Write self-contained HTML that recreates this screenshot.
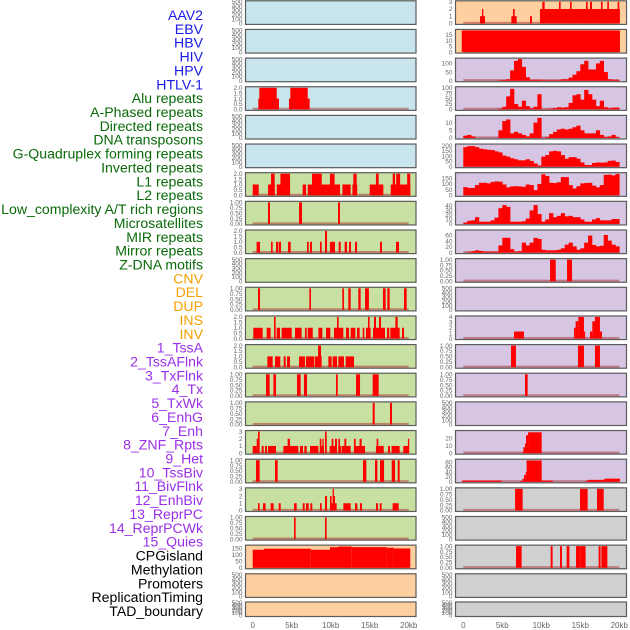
<!DOCTYPE html>
<html><head><meta charset="utf-8">
<style>
html,body{margin:0;padding:0;background:#fff;}
svg{display:block;font-family:"Liberation Sans",sans-serif;}
</style></head>
<body>
<svg id="chart" width="630" height="630" viewBox="0 0 630 630" xmlns="http://www.w3.org/2000/svg">
<g id="labels" font-size="14.1" text-anchor="end"></g>
<g id="panels"></g>
<g id="xaxis" font-size="8" fill="#666" text-anchor="middle"></g>
</svg>
<script>
// ---- data ----
const trackLabels = ["AAV2","EBV","HBV","HIV","HPV","HTLV-1","Alu repeats","A-Phased repeats","Directed repeats","DNA transposons","G-Quadruplex forming repeats","Inverted repeats","L1 repeats","L2 repeats","Low_complexity A/T rich regions","Microsatellites","MIR repeats","Mirror repeats","Z-DNA motifs","CNV","DEL","DUP","INS","INV","1_TssA","2_TssAFlnk","3_TxFlnk","4_Tx","5_TxWk","6_EnhG","7_Enh","8_ZNF_Rpts","9_Het","10_TssBiv","11_BivFlnk","12_EnhBiv","13_ReprPC","14_ReprPCWk","15_Quies","CPGisland","Methylation","Promoters","ReplicationTiming","TAD_boundary"];
const labelColors = ["#1a1ae6","#1a1ae6","#1a1ae6","#1a1ae6","#1a1ae6","#1a1ae6","#0a6a0a","#0a6a0a","#0a6a0a","#0a6a0a","#0a6a0a","#0a6a0a","#0a6a0a","#0a6a0a","#0a6a0a","#0a6a0a","#0a6a0a","#0a6a0a","#0a6a0a","#f5a000","#f5a000","#f5a000","#f5a000","#f5a000","#9a30e8","#9a30e8","#9a30e8","#9a30e8","#9a30e8","#9a30e8","#9a30e8","#9a30e8","#9a30e8","#9a30e8","#9a30e8","#9a30e8","#9a30e8","#9a30e8","#9a30e8","#000","#000","#000","#000","#000"];
const xTickValues = [0,5,10,15,20];
const xTickLabels = ["0","5kb","10kb","15kb","20kb"];

// segment tracks: [startKb, endKb, value]
const segHIV = [[0.72,3.37,1],[0.85,3.08,2],[4.65,7.3,1],[4.82,7.05,2]];
const segAlu = [[0,0.77,1],[1.97,2.82,1],[2.35,2.82,2],[3.08,4.79,1],[3.55,4.79,2],[6.41,6.84,1],[7.05,11.2,1],[7.6,8.85,2],[9.9,10.5,2],[11.5,12.56,1],[12.78,13.4,1],[12.9,13.33,2],[15.0,16.75,1],[15.8,16.15,2],[17.7,20.2,1],[17.95,18.25,2],[18.4,18.9,2],[19.8,20.2,2]];
const segAPhased = [[1.96,2.22,1],[5.94,6.32,1],[10.94,11.19,1]];
const segDirected = [[0.5,0.94,1],[2.35,2.56,1],[2.99,3.3,1],[3.37,3.63,1],[4.53,4.87,1],[6.96,7.18,1],[7.35,7.6,1],[8.63,8.84,1],[9.9,10.55,1],[11.02,11.28,1],[11.79,12.09,1],[12.35,12.6,1],[13.12,13.38,1],[16.32,16.57,1],[18.37,18.76,1],[9.27,9.53,2]];
const segGQuad = [[0.68,0.94,1],[7.26,7.47,1],[11.49,11.7,1],[12.26,12.56,1],[13.54,13.84,1],[14.4,14.9,1],[16.7,17.05,1],[17.26,17.56,1],[19.4,19.74,1]];
const segInverted = [[0.08,1.28,1],[1.79,2.3,1],[3.07,3.5,1],[3.71,5,1],[5.42,6.27,1],[6.7,6.92,1],[7.05,7.7,1],[8.42,8.93,1],[9.4,9.95,1],[10.42,11.62,1],[11.96,12.35,1],[12.56,13.16,1],[13.37,13.71,1],[14.1,14.31,1],[14.52,15.12,1],[15.42,16.96,1],[17.22,17.51,1],[17.64,18.84,1],[19.14,19.4,1],[2.73,2.94,2],[10.81,11.02,2],[14.78,14.99,2],[15.55,15.81,2],[16.19,16.45,2],[18.29,18.59,2]];
const segL1 = [[1.88,2.56,1],[2.86,3.54,1],[3.97,4.23,1],[4.4,4.78,1],[5.94,6.7,1],[6.83,7.9,1],[7.99,8.84,1],[9.7,10.12,1],[10.25,10.81,1],[10.98,11.7,1],[11.92,12.99,1],[8.38,8.76,2]];
const segL2 = [[1.71,2.17,1],[2.65,2.99,1],[5.68,6.15,1],[6.57,6.96,1],[10.68,10.9,1],[13.25,13.76,1],[15.38,16.15,1]];
const segLowC = [[15.38,15.64,1],[17.6,17.86,1]];
const segMicro = [[0,0.51,1],[1.15,1.41,1],[1.58,1.83,1],[1.96,2.99,1],[3.93,4.57,1],[4.7,5.85,1],[6.06,6.45,1],[6.62,6.92,1],[7.35,8.42,1],[8.67,9.14,1],[9.87,10.72,1],[10.98,11.32,1],[11.4,12.56,1],[12.98,14.4,1],[15.8,16.8,1],[17.35,17.6,1],[17.8,18.84,1],[19.3,20.04,1],[0.51,0.81,2],[4.48,4.78,2],[8.6,8.8,2],[8.93,9.1,2],[9.27,9.48,2],[10.12,10.34,2],[10.55,10.81,2],[10.98,11.19,2],[11.75,12,2],[12.98,13.2,2],[13.7,13.97,2],[15.89,16.1,2],[19.9,20.07,2],[0.68,0.89,3],[9.27,9.48,3]];
const segMIR = [[0.42,0.89,1],[2.86,3.2,1],[14.14,14.57,1],[15.68,15.98,1],[16.32,16.84,1],[17.82,18.25,1],[18.59,18.84,1]];
const segMirror = [[0.68,0.89,1],[1.32,1.66,1],[2.3,2.69,1],[3.33,3.59,1],[5.3,5.64,1],[6.41,6.66,1],[6.83,7.18,1],[7.39,7.64,1],[8.63,8.84,1],[9.91,10.76,1],[11.62,12.56,1],[13.12,13.42,1],[13.76,14.01,1],[15.81,16.06,1],[16.28,16.53,1],[17.94,18.71,1],[9.27,9.53,2],[9.91,10.12,2],[10.34,10.55,2],[10.25,10.42,3]];
const segZDNA = [[5.3,5.51,1],[9.27,9.48,1]];
const segCNV = [[0,1.45,140],[1.45,7.44,148],[7.44,9.91,140],[9.91,11,160],[11,12.7,165],[12.7,17.2,160],[17.2,18.1,155],[18.1,20.2,150]];
const segINS = [[2.14,2.78,1],[2.4,2.57,2],[6.16,6.84,1],[6.37,6.59,2],[8.55,8.8,1],[9.83,20.08,2],[10.13,10.43,3],[12.27,12.48,3],[13.68,13.89,3],[15.73,15.94,3],[16.24,16.5,3],[17.65,17.86,3],[18.46,18.67,3],[19.79,20.0,3]];
const segINV = [[-0.2,20.08,19]];
const segZNF = [[11.12,11.85,1],[13.3,13.94,1]];
const segTssBiv = [[6.5,7.78,1.3],[14.19,14.4,2],[14.4,14.74,3.2],[14.74,15.47,4],[15.47,15.6,1.3],[16.24,16.54,1.3],[16.54,16.88,3.2],[16.88,17.52,4],[17.52,17.78,1.3]];
const segBivFlnk = [[6.12,6.75,1],[14.7,15.47,1],[16.88,17.52,1]];
const segEnhBiv = [[7.91,8.25,1]];
const segReprPCWk = [[7.5,7.7,1],[7.7,7.91,8],[7.91,8.04,13],[8.04,8.3,24],[8.3,10.05,28]];
const segQuies = [[-0.2,4.92,5],[7.27,7.57,3],[7.57,7.78,12],[7.78,8,28],[8,8.12,40],[8.12,10.05,88],[10.05,11.46,5],[15.73,16.03,5],[16.03,17.95,8],[17.95,18.16,10],[18.16,20.08,13]];
const segCPG = [[6.64,7.61,1],[14.96,15.94,1],[17.14,18.0,1]];
const segMeth = [[6.76,7.48,1],[11.2,11.45,1],[12.4,12.65,1],[13.25,13.6,1],[14.45,15.05,1],[15.05,15.68,1],[17.35,17.6,1],[17.7,18.47,1]];

// binned profile tracks (0.5 kb bins starting at 0)
const binTssA = [0,0,0,0,0,0,0,0,0,3,4,8,60,115,125,80,20,5,5,5,3,3,3,3,3,8,8,18,35,55,95,115,65,65,100,115,50,8,5,5];
const binTssAFlnk = [0,0,0,0,0,0,0,0,0,3,12,60,95,25,12,40,15,5,12,70,1,2,3,6,10,8,10,30,65,70,45,90,70,45,15,40,10,5,8,8];
const binTxFlnk = [1.5,2,1,0,0,0,0,0,0,5,11,12,3,4,3,2,1,3,10,13,0,0.5,2.5,4,5.5,6,5.5,6,7,8,5,3,3,3,5,2,0.5,1,2,0.5];
const binTx = [185,195,195,185,170,165,160,158,145,135,105,95,80,70,60,60,70,55,30,8,95,110,145,150,145,110,75,90,90,75,40,15,15,35,40,38,40,55,58,45];
const binTxWk = [72,65,65,90,110,110,105,118,122,120,95,70,78,80,78,75,95,90,45,100,185,170,110,108,115,160,160,90,60,80,105,108,110,85,70,90,180,182,175,188];
const binEnhG = [3,7,8,15,5,5,5,8,14,35,42,38,5,5,5,6,12,30,42,22,5,10,24,15,18,24,17,18,15,15,10,5,5,10,13,8,8,8,11,11];
const binEnh = [0,2,5,8,6,3,3,3,3,25,52,52,12,3,5,35,25,35,52,48,10,8,8,8,10,15,28,35,22,10,15,35,60,27,22,24,62,42,28,22];

// y tick labels per panel
const ticksEmpty = ["0","100","200","300","400","500"];
const ticks01 = ["0.00","0.25","0.50","0.75","1.00"];
const ticks02 = ["0.0","0.5","1.0","1.5","2.0"];
const ticks03 = ["0","1","2","3"];

// ---- layout ----
const BG = {blue:"#c8e4ec", green:"#c8e1a2", peach:"#ffd09f", lav:"#d6c6e3", gray:"#d0d0d0"};
const panelX = [[245,416.5],[455,627]];
const zeroX = [252.7,463.3];
const PXKB = 7.8;
function rowTop(r){ return r===21 ? 601.5 : 28.65*r + 0.3; }
function rowH(r){ return r===21 ? 15.5 : 24.6; }

const panelDefs = [
 {c:0,r:0,bg:"blue",name:"aav2"},{c:0,r:1,bg:"blue",name:"ebv"},{c:0,r:2,bg:"blue",name:"hbv"},
 {c:0,r:3,bg:"blue",name:"hiv",seg:segHIV,max:2,tk:ticks02},
 {c:0,r:4,bg:"blue",name:"hpv"},{c:0,r:5,bg:"blue",name:"htlv-1"},
 {c:0,r:6,bg:"green",name:"alu",seg:segAlu,max:2,tk:ticks02},
 {c:0,r:7,bg:"green",name:"a-phased",seg:segAPhased,max:1,tk:ticks01},
 {c:0,r:8,bg:"green",name:"directed",seg:segDirected,max:2,tk:ticks02},
 {c:0,r:9,bg:"green",name:"dna-transposons"},
 {c:0,r:10,bg:"green",name:"g-quadruplex",seg:segGQuad,max:1,tk:ticks01},
 {c:0,r:11,bg:"green",name:"inverted",seg:segInverted,max:2,tk:ticks02},
 {c:0,r:12,bg:"green",name:"l1",seg:segL1,max:2,tk:ticks02},
 {c:0,r:13,bg:"green",name:"l2",seg:segL2,max:1,tk:ticks01},
 {c:0,r:14,bg:"green",name:"low-complexity",seg:segLowC,max:1,tk:ticks01},
 {c:0,r:15,bg:"green",name:"microsatellites",seg:segMicro,max:3,tk:ticks03},
 {c:0,r:16,bg:"green",name:"mir",seg:segMIR,max:1,tk:ticks01},
 {c:0,r:17,bg:"green",name:"mirror",seg:segMirror,max:3,tk:ticks03},
 {c:0,r:18,bg:"green",name:"z-dna",seg:segZDNA,max:1,tk:ticks01},
 {c:0,r:19,bg:"peach",name:"cnv",seg:segCNV,max:168,tk:["0","50","100","150"]},
 {c:0,r:20,bg:"peach",name:"del"},{c:0,r:21,bg:"peach",name:"dup"},
 {c:1,r:0,bg:"peach",name:"ins",seg:segINS,max:3,tk:ticks03},
 {c:1,r:1,bg:"peach",name:"inv",seg:segINV,max:19,tk:["0","5","10","15"]},
 {c:1,r:2,bg:"lav",name:"tssa",bins:binTssA,max:125,tk:["0","50","100"]},
 {c:1,r:3,bg:"lav",name:"tssaflnk",bins:binTssAFlnk,max:100,tk:["0","25","50","75","100"]},
 {c:1,r:4,bg:"lav",name:"txflnk",bins:binTxFlnk,max:14,tk:["0","5","10"]},
 {c:1,r:5,bg:"lav",name:"tx",bins:binTx,max:205,tk:["0","50","100","150","200"]},
 {c:1,r:6,bg:"lav",name:"txwk",bins:binTxWk,max:190,tk:["0","50","100","150"]},
 {c:1,r:7,bg:"lav",name:"enhg",bins:binEnhG,max:48,tk:["0","10","20","30","40"]},
 {c:1,r:8,bg:"lav",name:"enh",bins:binEnh,max:76,tk:["0","20","40","60"]},
 {c:1,r:9,bg:"lav",name:"znf-rpts",seg:segZNF,max:1,tk:ticks01},
 {c:1,r:10,bg:"lav",name:"het"},
 {c:1,r:11,bg:"lav",name:"tssbiv",seg:segTssBiv,max:4,tk:["0","1","2","3","4"]},
 {c:1,r:12,bg:"lav",name:"bivflnk",seg:segBivFlnk,max:1,tk:ticks01},
 {c:1,r:13,bg:"lav",name:"enhbiv",seg:segEnhBiv,max:1,tk:ticks01},
 {c:1,r:14,bg:"lav",name:"reprpc"},
 {c:1,r:15,bg:"lav",name:"reprpcwk",seg:segReprPCWk,max:29,tk:["0","10","20"]},
 {c:1,r:16,bg:"lav",name:"quies",seg:segQuies,max:89,tk:["0","20","40","60","80"]},
 {c:1,r:17,bg:"gray",name:"cpgisland",seg:segCPG,max:1,tk:ticks01},
 {c:1,r:18,bg:"gray",name:"methylation"},
 {c:1,r:19,bg:"gray",name:"promoters",seg:segMeth,max:1,tk:ticks01},
 {c:1,r:20,bg:"gray",name:"replication-timing"},
 {c:1,r:21,bg:"gray",name:"tad-boundary"}
];

const NS = "http://www.w3.org/2000/svg";
function mk(tag, attrs, parent){
  const e = document.createElementNS(NS, tag);
  for (const k in attrs) e.setAttribute(k, attrs[k]);
  parent.appendChild(e);
  return e;
}

// labels
const lg = document.getElementById('labels');
trackLabels.forEach((t,i)=>{
  const el = mk('text',{x:203,y:15+13.86*i+5,fill:labelColors[i]},lg);
  el.textContent = t;
  
  
});

// panels
const pg = document.getElementById('panels');
panelDefs.forEach(p=>{
  const top = rowTop(p.r), h = rowH(p.r);
  const [x0,x1] = panelX[p.c];
  const g = mk('g',{},pg);
  
  
  const bg = mk('rect',{x:x0,y:top,width:x1-x0,height:h,fill:BG[p.bg]},g);
  
  
  const xs = kb => zeroX[p.c] + kb*PXKB;
  const empty = !p.seg && !p.bins;
  const max = empty ? 500 : p.max;
  const ys = v => top + h - 1.5 - v/max*(h-3);
  const tk = empty ? ticksEmpty : p.tk;
  tk.forEach(t=>{
    const v = parseFloat(t);
    const tl = mk('text',{x:x0-2.5,y:ys(v)+2.2,'font-size':6.5,fill:'#666','text-anchor':'end'},g);
    tl.textContent = t;
    
    
  });
  if (!empty){
    const bl = mk('rect',{x:xs(0),y:ys(0)-1.6,width:20*PXKB,height:2,fill:'#b03838','fill-opacity':0.55},g);
    
    
  }
  if (p.seg){
    p.seg.forEach(s=>{
      const r = mk('rect',{x:xs(s[0]),y:ys(s[2]),width:Math.max(1.2,xs(s[1])-xs(s[0])),height:ys(0)-ys(s[2]),fill:'#ff0000'},g);
      
      
    });
  }
  if (p.bins){
    p.bins.forEach((v,i)=>{
      if (v<=0) return;
      const r = mk('rect',{x:xs(i*0.5),y:ys(v),width:0.5*PXKB+0.3,height:ys(0)-ys(v),fill:'#ff0000'},g);
      
      
    });
  }
  const fr = mk('rect',{x:x0+0.5,y:top+0.5,width:x1-x0-1,height:h-1,fill:'none',stroke:'#5c5c5c','stroke-width':1.2},g);
  
  
});

// x axes
const xg = document.getElementById('xaxis');
[0,1].forEach(c=>{
  xTickValues.forEach((v,i)=>{
    const t = mk('text',{x:zeroX[c]+v*PXKB,y:628},xg);
    t.textContent = xTickLabels[i];
    
    
  });
});
</script>
</body></html>
